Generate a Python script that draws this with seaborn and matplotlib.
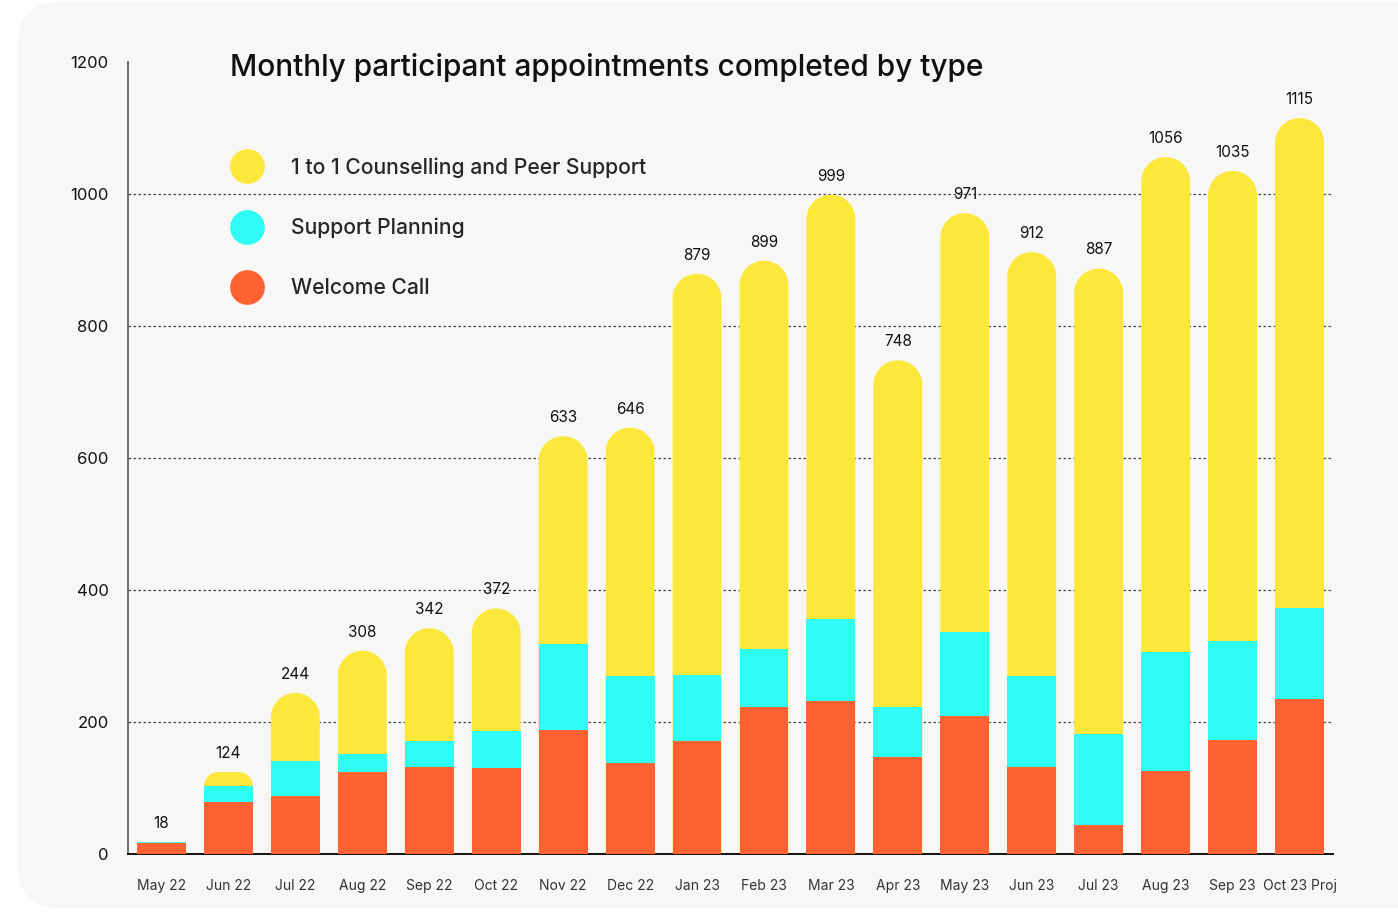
import numpy as np
import pandas as pd
import matplotlib
matplotlib.use("Agg")
import matplotlib.pyplot as plt
from matplotlib.patches import Polygon, FancyBboxPatch
from matplotlib.lines import Line2D
import seaborn as sns

# data
months = ["May 22", "Jun 22", "Jul 22", "Aug 22", "Sep 22", "Oct 22", "Nov 22",
          "Dec 22", "Jan 23", "Feb 23", "Mar 23", "Apr 23", "May 23", "Jun 23",
          "Jul 23", "Aug 23", "Sep 23", "Oct 23 Proj"]
welcome_call = [17, 79, 88, 124, 132, 130, 188, 138, 171, 222, 232, 147, 209, 132, 44, 126, 173, 235]
support_planning = [1, 24, 53, 28, 39, 56, 130, 132, 100, 89, 124, 75, 128, 138, 138, 180, 150, 138]
totals = [18, 124, 244, 308, 342, 372, 633, 646, 879, 899, 999, 748, 971, 912, 887, 1056, 1035, 1115]

df = pd.DataFrame({"month": months, "welcome": welcome_call,
                   "planning": support_planning, "total": totals})
df["lower2"] = df["welcome"] + df["planning"]
df["counselling"] = df["total"] - df["lower2"]

YELLOW = "#fce83a"
CYAN = "#2efcf5"
ORANGE = "#fe6232"
PANEL = "#f7f7f5"

sns.set_style("white")
plt.rcParams["font.family"] = ["Inter", "DejaVu Sans"]

W, H = 1398, 915
fig = plt.figure(figsize=(W / 100, H / 100), dpi=100)
fig.patch.set_facecolor("white")

# rounded light panel behind everything
panel = FancyBboxPatch((18 / W, 7 / H), 1.2, (913 - 7) / H,
                       boxstyle="round,pad=0,rounding_size=0.03",
                       mutation_aspect=W / H, transform=fig.transFigure,
                       facecolor=PANEL, edgecolor="none", zorder=-5)
fig.patches.append(panel)

ax = fig.add_axes([128 / W, (H - 854) / H, (1333 - 128) / W, (854 - 62) / H])
ax.set_facecolor("none")

bw = 0.73
bar_kw = dict(saturation=1, width=bw, edgecolor="none", linewidth=0, ax=ax)
sns.barplot(data=df, x="month", y="total", color=YELLOW, **bar_kw)
sns.barplot(data=df, x="month", y="lower2", color=CYAN, **bar_kw)
sns.barplot(data=df, x="month", y="welcome", color=ORANGE, **bar_kw)

ax.set_xlim(-0.5, len(months) - 0.5)
ax.set_ylim(0, 1200)
ax.set_yticks(range(0, 1201, 200))
ax.set_xlabel("")
ax.set_ylabel("")

# value labels on the totals
ax.bar_label(ax.containers[0], labels=[str(t) for t in totals], padding=8,
             fontsize=11, color="#111111")

# round off the top of each stack (replace yellow rectangles)
p0 = ax.transData.transform((0, 0))
p1 = ax.transData.transform((1, 1))
sx, sy = p1[0] - p0[0], p1[1] - p0[1]
theta = np.linspace(0, np.pi / 2, 30)
for patch, seg in zip(ax.containers[0], df["counselling"]):
    x0, w, h = patch.get_x(), patch.get_width(), patch.get_height()
    r_px = min(w * sx / 2, seg * sy)
    rx, ry = r_px / sx, r_px / sy
    right = np.column_stack([x0 + w - rx + rx * np.cos(theta), h - ry + ry * np.sin(theta)])
    left = np.column_stack([x0 + rx + rx * np.cos(theta + np.pi / 2), h - ry + ry * np.sin(theta + np.pi / 2)])
    verts = np.vstack([[[x0, 0], [x0 + w, 0]], right, left, [[x0, 0]]])
    patch.set_visible(False)
    ax.add_patch(Polygon(verts, closed=True, facecolor=YELLOW, edgecolor="none", zorder=2))

# lower segments above rounded tops
for cont in ax.containers[1:]:
    for p in cont:
        p.set_zorder(3)

# grid, spines, ticks
ax.set_axisbelow(True)
ax.yaxis.grid(True, linestyle=(0, (2, 2)), color="#444444", linewidth=0.9)
ax.xaxis.grid(False)
for gl, v in zip(ax.get_ygridlines(), ax.get_yticks()):
    if v >= 1200 or v <= 0:
        gl.set_visible(False)
sns.despine(ax=ax, top=True, right=True)
ax.spines["left"].set_color("#555555")
ax.spines["left"].set_linewidth(1.2)
ax.spines["bottom"].set_color("#111111")
ax.spines["bottom"].set_linewidth(1.4)
ax.tick_params(axis="x", length=0, pad=18, labelsize=10, labelcolor="#333333")
ax.tick_params(axis="y", length=0, pad=14, labelsize=12, labelcolor="#111111")

# title
fig.text(230 / W, 1 - 67 / H, "Monthly participant appointments completed by type",
         fontsize=21.5, fontweight="medium", color="#111111", ha="left", va="center")

# legend
handles = [Line2D([], [], linestyle="none", marker="o", markersize=25, markeredgewidth=0,
                  markerfacecolor=c) for c in (YELLOW, CYAN, ORANGE)]
labels = ["1 to 1 Counselling and Peer Support", "Support Planning", "Welcome Call"]
fig.legend(handles, labels, loc="upper left", bbox_to_anchor=(230 / W, 1 - 157 / H),
           frameon=False, handlelength=1.6, handletextpad=1.3,
           labelspacing=1.9, borderpad=0, borderaxespad=0,
           prop={"size": 15.2, "weight": "medium"})

fig.savefig("out.png", dpi=100, facecolor=fig.get_facecolor())
